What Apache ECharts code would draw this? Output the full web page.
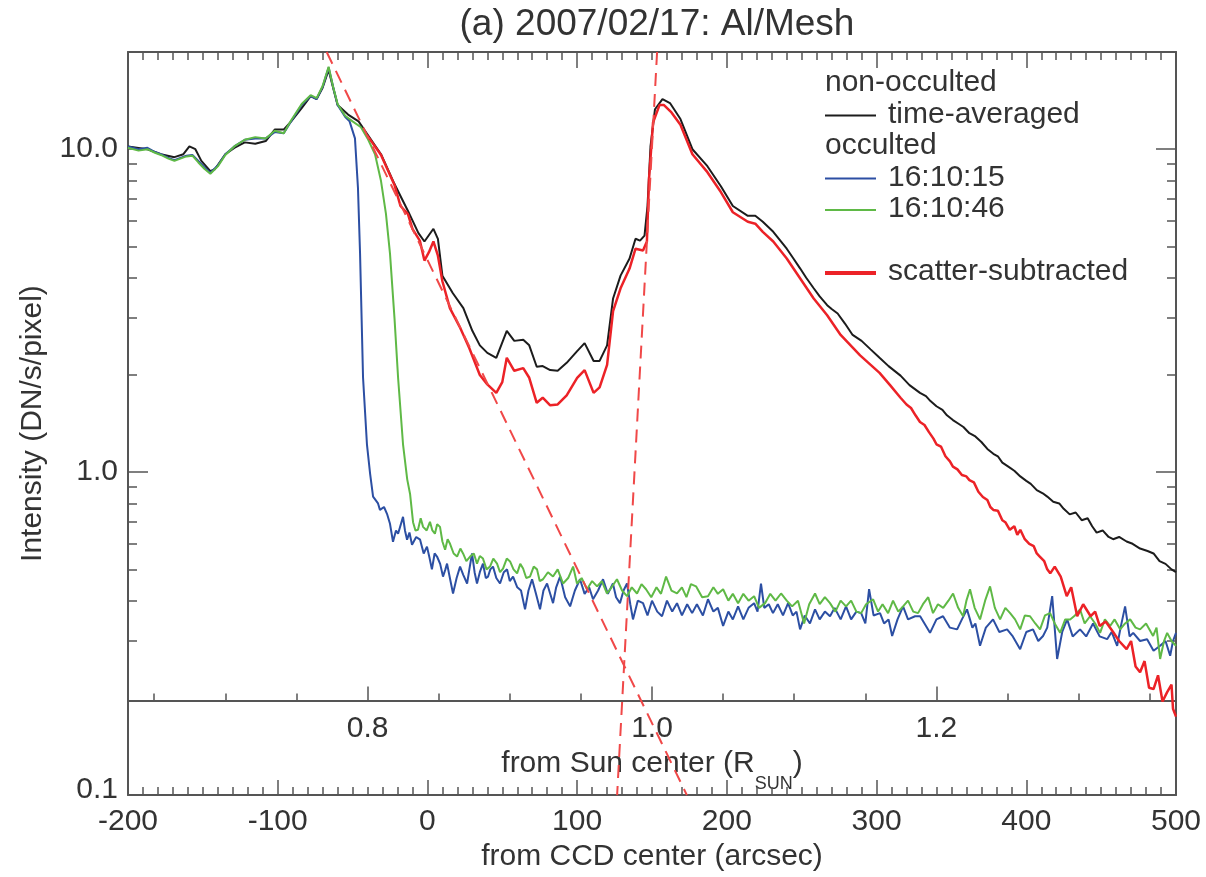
<!DOCTYPE html>
<html>
<head>
<meta charset="utf-8">
<script src="https://cdn.jsdelivr.net/npm/echarts@6.0.0/dist/echarts.min.js"></script>
<style>
  html, body { margin: 0; padding: 0; background: #fff; }
  #chart { width: 1206px; height: 877px; }
</style>
</head>
<body>
<div id="chart"></div>
<script>
// 数据: [arcsec from CCD center, intensity DN/s/pixel]
const timeAveraged = [
  [-200, 10.2], [-187, 10.0], [-178, 9.65], [-169, 9.45], [-163, 9.65], [-159, 10.2], [-155, 10.0],
  [-151, 9.2], [-145, 8.55], [-142, 8.67], [-135, 9.65], [-129, 10.1], [-122, 10.5], [-115, 10.4],
  [-108, 10.6], [-102, 11.5], [-96, 11.5], [-91, 12.2], [-84, 13.4], [-78, 14.6], [-74, 14.3],
  [-70, 15.5], [-66, 17.6], [-63, 15.5], [-60, 13.7], [-53, 12.8], [-46, 12.2], [-40, 11.1],
  [-31, 9.65], [-22, 7.8], [-13, 6.44], [-6, 5.5], [-2, 5.18], [4, 5.67], [7, 5.28], [10, 4.06],
  [17, 3.58], [24, 3.22], [30, 2.74], [35, 2.47], [40, 2.34], [46, 2.26], [53, 2.74], [58, 2.55],
  [64, 2.57], [68, 2.47], [73, 2.12], [77, 2.13], [82, 2.07], [87, 2.06], [93, 2.18], [100, 2.37],
  [105, 2.51], [111, 2.21], [115, 2.21], [120, 2.47], [124, 3.45], [129, 4.06], [135, 4.59],
  [139, 5.28], [142, 5.21], [145, 5.40], [147, 6.67], [149, 10.2], [152, 13.3], [157, 14.3],
  [162, 13.9], [169, 12.4], [177, 10.0], [187, 8.86], [196, 7.68], [204, 6.67], [214, 6.22],
  [219, 6.22], [224, 5.96], [231, 5.55], [240, 4.92], [244, 4.62], [249, 4.27], [253, 4.0],
  [258, 3.71], [262, 3.5], [267, 3.29], [270, 3.2], [274, 3.10], [279, 2.88], [284, 2.66],
  [290, 2.55], [296, 2.40], [302, 2.26], [308, 2.13], [316, 1.99], [322, 1.86], [329, 1.76],
  [333, 1.72], [336, 1.66], [340, 1.60], [344, 1.56], [347, 1.50], [351, 1.45], [355, 1.41],
  [358, 1.38], [362, 1.32], [366, 1.29], [370, 1.24], [374, 1.18], [378, 1.14], [381, 1.12],
  [384, 1.07], [388, 1.04], [392, 1.01], [396, 0.97], [400, 0.94], [403, 0.92], [407, 0.88],
  [411, 0.86], [414, 0.84], [418, 0.81], [422, 0.80], [425, 0.77], [429, 0.74], [433, 0.75],
  [437, 0.71], [441, 0.72], [444, 0.68], [447, 0.65], [451, 0.66], [455, 0.63], [458, 0.62],
  [462, 0.63], [467, 0.61], [471, 0.60], [476, 0.58], [481, 0.57], [485, 0.56], [489, 0.53],
  [493, 0.52], [497, 0.50], [500, 0.49]
];

const occulted1 = [
  [-200, 10.2], [-193, 10.0], [-187, 10.1], [-182, 9.8], [-178, 9.65], [-173, 9.4], [-169, 9.25],
  [-165, 9.4], [-161, 9.55], [-157, 9.6], [-153, 9.19], [-149, 8.8], [-145, 8.45], [-140, 8.9],
  [-135, 9.65], [-129, 10.2], [-122, 10.7], [-115, 10.8], [-108, 10.8], [-102, 11.3], [-96, 11.2],
  [-91, 12.2], [-84, 13.7], [-78, 14.6], [-74, 14.3], [-70, 15.6], [-66, 17.9], [-63, 15.6],
  [-60, 13.7], [-55, 12.6], [-52, 12.2], [-48.4, 10.8], [-46.4, 7.6], [-45, 4.75], [-43, 1.96],
  [-40.4, 1.22], [-38.3, 0.99], [-36.3, 0.84], [-33, 0.80], [-31.7, 0.764], [-29, 0.78],
  [-27, 0.743], [-25, 0.692], [-23, 0.609], [-21, 0.66], [-19.6, 0.645], [-16.3, 0.727],
  [-15, 0.66], [-13.6, 0.618], [-12, 0.65], [-10.3, 0.596], [-7.5, 0.63], [-4.9, 0.618],
  [-2.5, 0.56], [-0.3, 0.588], [1.5, 0.54], [3, 0.50], [4.8, 0.56], [6.4, 0.548], [8.5, 0.52],
  [10.4, 0.475], [12, 0.50], [13.1, 0.521], [15, 0.47], [17.1, 0.421], [19.5, 0.47], [21.8, 0.510],
  [24, 0.48], [26.5, 0.452], [28, 0.50], [29.8, 0.560], [31.5, 0.49], [33.1, 0.452], [35, 0.49],
  [37.1, 0.521], [39, 0.47], [40.5, 0.475], [42, 0.50], [43.8, 0.510], [46, 0.47], [48.5, 0.452],
  [51, 0.49], [53.2, 0.50], [55, 0.46], [57.2, 0.475], [60, 0.44], [62.5, 0.43], [65.2, 0.376],
  [67.5, 0.43], [69.9, 0.466], [72.5, 0.42], [75.2, 0.376], [77.5, 0.43], [79.9, 0.452], [82, 0.42],
  [83.9, 0.393], [86, 0.44], [88.6, 0.475], [92, 0.41], [95.3, 0.384], [98.5, 0.43], [101.9, 0.466],
  [105, 0.42], [108, 0.44], [110.6, 0.404], [114, 0.43], [117.3, 0.466], [120.5, 0.42], [123.9, 0.452],
  [126, 0.41], [128.6, 0.393], [131, 0.43], [133.3, 0.452], [135.5, 0.39], [137.3, 0.350],
  [140.5, 0.40], [144, 0.393], [147, 0.36], [150, 0.40], [153.5, 0.37], [156.7, 0.358], [160, 0.40],
  [163.5, 0.37], [166.7, 0.393], [170, 0.36], [173.5, 0.39], [176.8, 0.366], [180, 0.39], [184, 0.36],
  [187.4, 0.404], [191, 0.37], [194, 0.38], [197.5, 0.334], [201, 0.37], [204, 0.35], [207.5, 0.384],
  [211, 0.35], [214.5, 0.38], [218.2, 0.393], [220.5, 0.37], [222.8, 0.452], [225, 0.38], [228, 0.39],
  [230.8, 0.366], [234, 0.39], [237.5, 0.36], [240.9, 0.393], [244, 0.36], [246.5, 0.37], [248.9, 0.326],
  [252, 0.36], [255.5, 0.34], [258.9, 0.376], [262, 0.35], [265.5, 0.37], [268.9, 0.358], [272, 0.38],
  [276, 0.35], [279.6, 0.384], [283, 0.35], [286.5, 0.37], [289.7, 0.366], [292.5, 0.34], [295, 0.434],
  [298, 0.36], [302.3, 0.366], [305, 0.34], [308, 0.35], [310.4, 0.311], [314, 0.35], [317.7, 0.384],
  [321, 0.35], [325.7, 0.358], [329.1, 0.358], [332, 0.34], [335.7, 0.318], [340, 0.35], [344.4, 0.358],
  [349, 0.33], [353.8, 0.326], [357, 0.35], [360.4, 0.376], [364, 0.33], [366, 0.34], [369.1, 0.290],
  [373, 0.33], [377.8, 0.350], [382, 0.32], [387.2, 0.326], [391, 0.31], [395.9, 0.283], [400, 0.32],
  [404.5, 0.326], [408, 0.30], [411.2, 0.311], [414, 0.33], [417.3, 0.413], [420.6, 0.264], [424, 0.32],
  [427.3, 0.350], [431, 0.31], [435.9, 0.326], [440, 0.31], [444.6, 0.340], [449, 0.31], [454, 0.304],
  [457, 0.32], [460.7, 0.290], [463, 0.33], [466, 0.384], [469, 0.31], [471.4, 0.318], [476, 0.30],
  [480.7, 0.304], [485, 0.28], [489.4, 0.290], [493, 0.30], [496.1, 0.270], [498, 0.30], [500, 0.318]
];

const occulted2 = [
  [-200, 10.1], [-193, 9.9], [-187, 10.0], [-182, 9.75], [-178, 9.6], [-173, 9.35], [-169, 9.2],
  [-165, 9.35], [-161, 9.5], [-157, 9.55], [-153, 9.1], [-149, 8.7], [-145, 8.4], [-140, 8.85],
  [-135, 9.6], [-129, 10.2], [-122, 10.7], [-115, 10.9], [-108, 10.8], [-102, 11.4], [-96, 11.2],
  [-91, 12.3], [-84, 13.8], [-78, 14.7], [-74, 14.4], [-70, 15.7], [-66, 18.0], [-63, 15.6],
  [-60, 13.8], [-55, 12.7], [-50, 12.2], [-44.4, 11.7], [-40, 10.8], [-35, 9.65], [-31, 7.97],
  [-27.7, 6.31], [-25, 4.75], [-22, 3.0], [-19.6, 1.96], [-16.3, 1.22], [-13.5, 0.95], [-11.6, 0.856],
  [-9.6, 0.70], [-8, 0.66], [-6.3, 0.663], [-4.5, 0.72], [-2.9, 0.677], [-0.5, 0.66], [1.7, 0.702],
  [3.3, 0.66], [5, 0.645], [6.5, 0.69], [8.4, 0.677], [10, 0.61], [11.8, 0.575], [13.5, 0.62],
  [15.1, 0.60], [17.5, 0.56], [19.8, 0.548], [22, 0.58], [23.8, 0.560], [26, 0.53], [28.5, 0.548],
  [31, 0.56], [33.1, 0.521], [35, 0.55], [37.1, 0.540], [39.5, 0.50], [41.8, 0.510], [44, 0.54],
  [46.5, 0.521], [48.5, 0.49], [50.5, 0.503], [53, 0.54], [55.2, 0.529], [57.5, 0.50], [59.9, 0.486],
  [62, 0.52], [63.9, 0.503], [66, 0.47], [68.5, 0.475], [71, 0.51], [73.2, 0.50], [75, 0.46],
  [77.2, 0.466], [80.5, 0.49], [83.9, 0.475], [87, 0.50], [90.6, 0.452], [94, 0.47], [97.3, 0.510],
  [99.9, 0.452], [103, 0.47], [106.6, 0.434], [110, 0.46], [113.3, 0.443], [116.5, 0.46], [119.9, 0.421],
  [123, 0.44], [126.6, 0.466], [130, 0.43], [133.3, 0.413], [136.5, 0.44], [140, 0.421], [143, 0.45],
  [146, 0.434], [149.5, 0.41], [153, 0.44], [156, 0.42], [159.4, 0.475], [163, 0.43], [166.7, 0.421],
  [170, 0.44], [173, 0.41], [176, 0.45], [179.4, 0.443], [183.5, 0.41], [187.4, 0.413], [191, 0.44],
  [194, 0.42], [197.5, 0.434], [201, 0.40], [204, 0.42], [207.5, 0.393], [211, 0.42], [214.5, 0.40],
  [218.2, 0.413], [221.5, 0.38], [225.5, 0.393], [229, 0.42], [232.5, 0.40], [236.2, 0.421], [240, 0.40],
  [243.6, 0.384], [247.5, 0.40], [251.6, 0.340], [255, 0.39], [258.9, 0.421], [262, 0.39], [265.5, 0.41],
  [268.9, 0.393], [272.5, 0.37], [276, 0.40], [279.6, 0.384], [283, 0.40], [286.5, 0.37], [289.7, 0.366],
  [293, 0.39], [297.7, 0.404], [301, 0.37], [304, 0.39], [307.7, 0.366], [311, 0.40], [314.5, 0.37],
  [317.7, 0.384], [321, 0.40], [324.5, 0.37], [327.7, 0.366], [331, 0.39], [334.5, 0.41], [337.7, 0.366],
  [341, 0.39], [344.5, 0.38], [348, 0.40], [351.1, 0.421], [354.5, 0.38], [357.8, 0.358], [360, 0.40],
  [362.4, 0.434], [365.5, 0.38], [369.1, 0.350], [372.5, 0.40], [375.8, 0.443], [379, 0.38], [382.5, 0.350],
  [386, 0.38], [389.2, 0.366], [392.5, 0.35], [395.9, 0.326], [399, 0.36], [402.5, 0.358], [406, 0.34],
  [409.2, 0.326], [412.5, 0.36], [415.9, 0.366], [419, 0.34], [422.6, 0.318], [426, 0.35], [429.3, 0.350],
  [432.5, 0.36], [435.9, 0.376], [439, 0.34], [442.6, 0.358], [446, 0.34], [449.3, 0.318], [452.5, 0.35],
  [456, 0.334], [459, 0.35], [462.7, 0.326], [466, 0.34], [469.4, 0.350], [473, 0.33], [476, 0.326],
  [480, 0.34], [484.7, 0.311], [487, 0.33], [489.4, 0.264], [492, 0.30], [494.1, 0.318], [497, 0.30],
  [500, 0.290]
];

const scatterSubtracted = [
  [-40, 11.0], [-31, 9.6], [-22, 7.75], [-18, 6.67], [-13, 6.3], [-10, 5.67], [-5, 5.2], [-2, 4.52],
  [1, 4.8], [4, 5.18], [7, 4.68], [10, 3.90], [15, 3.22], [22, 2.79], [28, 2.42], [35, 2.00],
  [40, 1.87], [46, 1.76], [50, 1.9], [53, 2.26], [58, 2.06], [64, 2.10], [68, 1.96], [73, 1.64],
  [77, 1.70], [82, 1.61], [87, 1.62], [93, 1.73], [100, 1.96], [105, 2.07], [111, 1.76], [115, 1.83],
  [120, 2.15], [124, 3.15], [129, 3.71], [135, 4.27], [139, 4.92], [144, 4.86], [146.6, 5.18],
  [148, 8.08], [150.7, 12.1], [155, 13.7], [158, 13.7], [163, 13.0], [169, 11.9], [177, 9.65],
  [187, 8.49], [196, 7.37], [204, 6.38], [214, 5.96], [219, 5.88], [224, 5.55], [231, 5.18],
  [240, 4.59], [249, 3.98], [258, 3.45], [267, 3.06], [276, 2.66], [289, 2.3], [302, 2.03],
  [309, 1.86], [316, 1.70], [320, 1.62], [323, 1.58], [326, 1.50], [329, 1.43], [332, 1.40],
  [335, 1.33], [338, 1.27], [340, 1.22], [343, 1.20], [346, 1.12], [349, 1.08], [351, 1.04],
  [354, 1.02], [357, 0.98], [360, 0.97], [362, 0.945], [365, 0.93], [368, 0.87], [371, 0.838],
  [374, 0.82], [376, 0.78], [378, 0.764], [381, 0.76], [384, 0.71], [386, 0.70], [389, 0.663],
  [392, 0.68], [394, 0.64], [396, 0.663], [399, 0.62], [402, 0.60], [405, 0.59], [407, 0.56],
  [409, 0.548], [412, 0.53], [414, 0.50], [416, 0.486], [419, 0.51],
  [423, 0.475], [427, 0.413], [430, 0.44], [434, 0.358], [438, 0.39], [443, 0.358], [446, 0.37],
  [449, 0.334], [453, 0.345], [458, 0.32], [462, 0.30], [467, 0.283], [470, 0.30], [473, 0.25],
  [476, 0.24], [479, 0.26], [482, 0.215], [485, 0.213], [488, 0.235], [491, 0.195], [494, 0.208],
  [497, 0.22], [498, 0.185], [500, 0.175]
];

// 红色虚线拟合 (对数坐标下的直线)
const fitOuter = [[-67.3, 20], [173.3, 0.1]];
const fitLimb = [[153.4, 20], [126.7, 0.1]];

// 坐标轴
const xRange = [-200, 500];
const yRange = [0.1, 20];
const yMinorTicks = [0.3, 0.4, 0.5, 0.6, 0.7, 0.8, 0.9, 2, 3, 4, 5, 6, 7, 8, 9];
const sunAxisLevel = 0.2;           // 内部坐标轴所在强度
const limbArcsec = 150;             // 1 R_SUN 对应的 arcsec
const rSunArcsec = 950;             // 1 R_SUN 的长度 (arcsec)
const sunMajorTicks = [0.8, 1.0, 1.2];
const sunMinorTicks = [0.65, 0.7, 0.75, 0.8, 0.85, 0.9, 0.95, 1.0, 1.05, 1.1, 1.15, 1.2, 1.25, 1.3, 1.35];

const FONT = '"Liberation Sans", Arial, Helvetica, sans-serif';
const FS = 30;
const AXIS_COLOR = '#555';
const TEXT_COLOR = '#333';

const WIDTH = 1206, HEIGHT = 877;
const grid = { left: 128, right: 30, top: 52, bottom: 79 };
const plotHeight = HEIGHT - grid.top - grid.bottom;
const plotCenterX = grid.left + (WIDTH - grid.left - grid.right) / 2;
const innerBottom = grid.bottom + plotHeight *
  (Math.log10(sunAxisLevel) - Math.log10(yRange[0])) / (Math.log10(yRange[1]) - Math.log10(yRange[0]));
const rMin = 1 + (xRange[0] - limbArcsec) / rSunArcsec;
const rMax = 1 + (xRange[1] - limbArcsec) / rSunArcsec;

const axisLine = { show: true, onZero: false, lineStyle: { color: AXIS_COLOR, width: 2 } };
const tickStyle = { color: AXIS_COLOR, width: 1.5 };
const labelStyle = { fontSize: FS, color: TEXT_COLOR, fontFamily: FONT };

const chart = echarts.init(document.getElementById('chart'));

// 图例 (手工绘制)
const legendLeft = 825;
const legendTop = 83;
const legendStep = 31.5;
const legendRows = [
  { text: 'non-occulted' },
  { text: 'time-averaged', color: '#1c1c1c', width: 2 },
  { text: 'occulted' },
  { text: '16:10:15', color: '#2c4fa3', width: 2 },
  { text: '16:10:46', color: '#5fb946', width: 2 },
  null,
  { text: 'scatter-subtracted', color: '#ec2227', width: 4 }
];
const legendGraphics = [];
legendRows.forEach((row, i) => {
  if (!row) return;
  const y = legendTop + i * legendStep;
  if (row.color) {
    legendGraphics.push({
      type: 'line', z: 100,
      shape: { x1: legendLeft, y1: y + 1, x2: legendLeft + 51, y2: y + 1 },
      style: { stroke: row.color, lineWidth: row.width }
    });
  }
  legendGraphics.push({
    type: 'text', z: 100, x: row.color ? legendLeft + 63 : legendLeft, y: y,
    style: { text: row.text, fill: TEXT_COLOR, fontSize: FS, fontFamily: FONT, verticalAlign: 'middle', align: 'left' }
  });
});

const lineSeries = (name, data, color, width, extra) => Object.assign({
  name, type: 'line', data, xAxisIndex: 0, yAxisIndex: 0,
  showSymbol: false, symbol: 'none', silent: true,
  lineStyle: { color, width }
}, extra || {});

chart.setOption({
  animation: false,
  backgroundColor: '#fff',
  title: {
    text: '(a) 2007/02/17: Al/Mesh',
    left: plotCenterX, textAlign: 'center', top: 1,
    textStyle: { fontSize: 37, fontWeight: 'normal', color: TEXT_COLOR, fontFamily: FONT }
  },
  grid: [
    { left: grid.left, right: grid.right, top: grid.top, bottom: grid.bottom },
    { left: grid.left, right: grid.right, top: grid.top, bottom: innerBottom }
  ],
  xAxis: [
    {
      type: 'value', gridIndex: 0, position: 'bottom', min: xRange[0], max: xRange[1], interval: 100,
      axisLine, splitLine: { show: false },
      axisTick: { inside: true, length: 15, lineStyle: tickStyle },
      minorTick: { show: true, splitNumber: 10, length: 8, lineStyle: tickStyle },
      axisLabel: Object.assign({ margin: 12 }, labelStyle),
      name: 'from CCD center (arcsec)', nameLocation: 'middle', nameGap: 44,
      nameTextStyle: labelStyle
    },
    {
      type: 'value', gridIndex: 0, position: 'top', min: xRange[0], max: xRange[1], interval: 100,
      axisLine, splitLine: { show: false },
      axisTick: { inside: true, length: 16, lineStyle: tickStyle },
      minorTick: { show: true, splitNumber: 10, length: 8, lineStyle: tickStyle },
      axisLabel: { show: false }
    },
    {
      type: 'value', gridIndex: 1, position: 'bottom', min: rMin, max: rMax,
      axisLine, splitLine: { show: false },
      axisTick: { inside: true, length: 14, lineStyle: tickStyle, customValues: sunMajorTicks },
      axisLabel: Object.assign({ margin: 13, customValues: sunMajorTicks, formatter: v => v.toFixed(1) }, labelStyle),
      name: '{m|from Sun center (R}{s|SUN}{m|)}', nameLocation: 'middle', nameGap: 45,
      nameTextStyle: {
        rich: {
          m: { fontSize: FS, lineHeight: 34, verticalAlign: 'top', color: TEXT_COLOR, fontFamily: FONT },
          s: { fontSize: 18, lineHeight: 18, padding: [27, 0, 0, 0], verticalAlign: 'top', color: TEXT_COLOR, fontFamily: FONT }
        }
      }
    },
    {
      type: 'value', gridIndex: 1, position: 'bottom', min: rMin, max: rMax,
      axisLine: { show: false, onZero: false }, splitLine: { show: false },
      axisTick: { inside: true, length: 7, lineStyle: tickStyle, customValues: sunMinorTicks },
      axisLabel: { show: false }
    }
  ],
  yAxis: [
    {
      type: 'log', logBase: 10, gridIndex: 0, position: 'left', min: yRange[0], max: yRange[1],
      axisLine, splitLine: { show: false }, minorTick: { show: false },
      axisTick: { inside: true, length: 20, lineStyle: tickStyle },
      axisLabel: Object.assign({
        margin: 10, showMaxLabel: false,
        formatter: v => (v < 0.5 ? '{low|' + v.toFixed(1) + '}' : v.toFixed(1)),
        rich: { low: { fontSize: FS, color: TEXT_COLOR, fontFamily: FONT, padding: [0, 0, 10, 0] } }
      }, labelStyle),
      name: 'Intensity (DN/s/pixel)', nameLocation: 'middle', nameGap: 80,
      nameTextStyle: labelStyle
    },
    {
      type: 'log', logBase: 10, gridIndex: 0, position: 'right', min: yRange[0], max: yRange[1],
      axisLine, splitLine: { show: false }, minorTick: { show: false },
      axisTick: { inside: true, length: 20, lineStyle: tickStyle },
      axisLabel: { show: false }
    },
    {
      type: 'log', logBase: 10, gridIndex: 0, position: 'left', min: yRange[0], max: yRange[1],
      axisLine: { show: false, onZero: false }, splitLine: { show: false },
      axisTick: { inside: true, length: 9, lineStyle: tickStyle, customValues: yMinorTicks },
      axisLabel: { show: false }
    },
    {
      type: 'log', logBase: 10, gridIndex: 0, position: 'right', min: yRange[0], max: yRange[1],
      axisLine: { show: false, onZero: false }, splitLine: { show: false },
      axisTick: { inside: true, length: 9, lineStyle: tickStyle, customValues: yMinorTicks },
      axisLabel: { show: false }
    },
    { type: 'value', gridIndex: 1, show: false, min: 0, max: 1 }
  ],
  graphic: legendGraphics,
  series: [
    lineSeries('time-averaged', timeAveraged, '#1c1c1c', 2, { z: 2 }),
    lineSeries('16:10:15', occulted1, '#2c4fa3', 2, { z: 3 }),
    lineSeries('16:10:46', occulted2, '#5fb946', 2, { z: 4 }),
    lineSeries('scatter-subtracted', scatterSubtracted, '#ec2227', 2.5, { z: 5 }),
    lineSeries('fit outer', fitOuter, '#f04848', 2, { z: 6, lineStyle: { color: '#f04848', width: 2, type: [13, 8] } }),
    lineSeries('fit limb', fitLimb, '#f04848', 2, { z: 6, lineStyle: { color: '#f04848', width: 2, type: [13, 8] } })
  ]
});
</script>
</body>
</html>
